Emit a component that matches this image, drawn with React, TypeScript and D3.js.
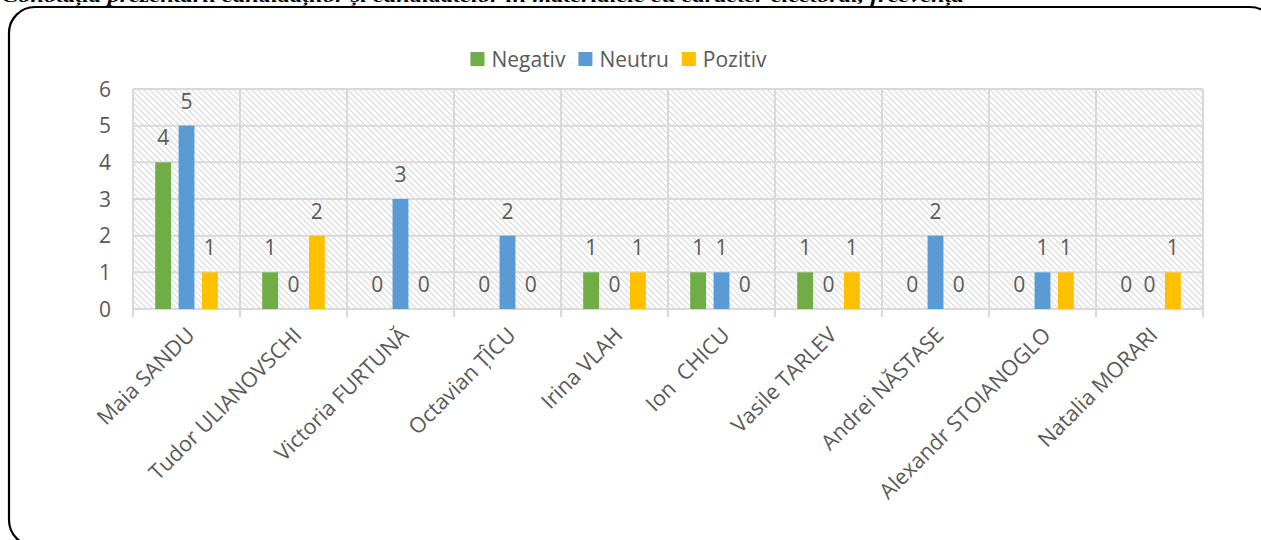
import React, { useEffect, useRef } from "react";
import * as d3 from "d3";

const categories = [
  "Maia SANDU",
  "Tudor ULIANOVSCHI",
  "Victoria FURTUNĂ",
  "Octavian ȚÎCU",
  "Irina VLAH",
  "Ion  CHICU",
  "Vasile TARLEV",
  "Andrei NĂSTASE",
  "Alexandr STOIANOGLO",
  "Natalia MORARI",
];
const seriesNames = ["Negativ", "Neutru", "Pozitiv"];
const negativ = [4, 1, 0, 0, 1, 1, 1, 0, 0, 0];
const neutru = [5, 0, 3, 2, 0, 1, 0, 2, 1, 0];
const pozitiv = [1, 2, 0, 0, 1, 0, 1, 0, 1, 1];
const yTicks = [0, 1, 2, 3, 4, 5, 6];
const colors = ["#70AD47", "#5B9BD5", "#FFC000"];
const title =
  "Conotația prezentării candidaților și candidatelor în materialele cu caracter electoral, frecvența";

const W = 1261;
const H = 540;
const FONT = "'Open Sans', sans-serif";
const TXT = "#595959";

export default function App() {
  const ref = useRef<SVGSVGElement>(null);
  useEffect(() => {
    const svg = d3.select(ref.current);
    svg.selectAll("*").remove();
    const values = [negativ, neutru, pozitiv];

    const left = 133, right = 1203, top = 89, bottom = 309;
    const x0 = d3.scaleBand<string>().domain(categories).range([left, right]).padding(0);
    const x1 = d3
      .scaleBand<string>()
      .domain(seriesNames)
      .range([0, x0.bandwidth()])
      .paddingInner(0.32)
      .paddingOuter(0.95);
    const y = d3.scaleLinear().domain([0, 6]).range([bottom, top]);

    const defs = svg.append("defs");
    const pat = defs
      .append("pattern")
      .attr("id", "hatch")
      .attr("patternUnits", "userSpaceOnUse")
      .attr("width", 6)
      .attr("height", 6);
    pat.append("rect").attr("width", 6).attr("height", 6).attr("fill", "#fff");
    pat
      .append("path")
      .attr("d", "M-1,-1 L7,7 M-1,5 L1,7 M5,-1 L7,1")
      .attr("stroke", "#dadada")
      .attr("stroke-width", 1.2);

    // title (clipped at top, as in the source)
    svg
      .append("text")
      .attr("x", 2)
      .attr("y", 1.5)
      .attr("font-family", "'Liberation Serif', 'Times New Roman', serif")
      .attr("font-style", "italic")
      .attr("font-weight", "bold")
      .attr("font-size", 17)
      .attr("textLength", 962)
      .attr("lengthAdjust", "spacingAndGlyphs")
      .attr("fill", "#000")
      .text(title);

    // border
    svg
      .append("rect")
      .attr("x", 9)
      .attr("y", 7)
      .attr("width", 1267)
      .attr("height", 539)
      .attr("rx", 26)
      .attr("fill", "none")
      .attr("stroke", "#000")
      .attr("stroke-width", 2.2);

    // plot background
    svg
      .append("rect")
      .attr("x", left)
      .attr("y", top)
      .attr("width", right - left)
      .attr("height", bottom - top)
      .attr("fill", "url(#hatch)");

    const grid = svg.append("g");
    yTicks.forEach((t) => {
      grid
        .append("line")
        .attr("x1", left)
        .attr("x2", right)
        .attr("y1", y(t))
        .attr("y2", y(t))
        .attr("stroke", "#d9d9d9")
        .attr("stroke-width", 2);
    });
    const bounds = categories.map((c) => x0(c)!).concat([right]);
    bounds.forEach((bx) => {
      grid
        .append("line")
        .attr("x1", bx)
        .attr("x2", bx)
        .attr("y1", top)
        .attr("y2", bottom + 8)
        .attr("stroke", "#d9d9d9")
        .attr("stroke-width", 2);
    });

    // y labels
    svg
      .append("g")
      .selectAll("text")
      .data(yTicks)
      .join("text")
      .attr("x", 111)
      .attr("y", (d) => y(d))
      .attr("dy", "0.36em")
      .attr("text-anchor", "end")
      .attr("font-family", FONT)
      .attr("font-size", 21)
      .attr("fill", TXT)
      .text((d) => String(d));

    // bars + labels
    seriesNames.forEach((s, si) => {
      const g = svg.append("g");
      categories.forEach((c, ci) => {
        const v = values[si][ci];
        const bx = x0(c)! + x1(s)!;
        if (v > 0) {
          g.append("rect")
            .attr("x", bx)
            .attr("y", y(v))
            .attr("width", x1.bandwidth())
            .attr("height", y(0) - y(v))
            .attr("fill", colors[si]);
        }
        g.append("text")
          .attr("x", bx + x1.bandwidth() / 2)
          .attr("y", y(v) - 17)
          .attr("text-anchor", "middle")
          .attr("font-family", FONT)
          .attr("font-size", 21)
          .attr("fill", TXT)
          .text(String(v));
      });
    });

    // x labels
    categories.forEach((c) => {
      const cx = x0(c)! + x0.bandwidth() / 2 + 4;
      const cy = 331;
      svg
        .append("text")
        .attr("transform", `translate(${cx},${cy}) rotate(-45)`)
        .attr("text-anchor", "end")
        .attr("dy", "0.36em")
        .attr("font-family", FONT)
        .attr("font-size", 21.5)
        .attr("fill", TXT)
        .style("white-space", "pre")
        .text(c);
    });

    // legend
    const lg = svg.append("g");
    const items = seriesNames.map((s, i) => {
      const it = lg.append("g");
      it.append("rect").attr("width", 14).attr("height", 14).attr("y", -7).attr("fill", colors[i]);
      const t = it
        .append("text")
        .attr("x", 21)
        .attr("dy", "0.36em")
        .attr("font-family", FONT)
        .attr("font-size", 21)
        .attr("fill", TXT)
        .text(s);
      const w = 21 + (t.node() as SVGTextElement).getComputedTextLength();
      return { it, w };
    });
    const gap = 13;
    const total = d3.sum(items, (d) => d.w) + gap * (items.length - 1);
    let lx = 618.5 - total / 2;
    items.forEach(({ it, w }) => {
      it.attr("transform", `translate(${lx},59)`);
      lx += w + gap;
    });
  }, []);

  return (
    <svg
      ref={ref}
      width={W}
      height={H}
      style={{ position: "absolute", left: 0, top: 0, background: "#fff" }}
    />
  );
}
